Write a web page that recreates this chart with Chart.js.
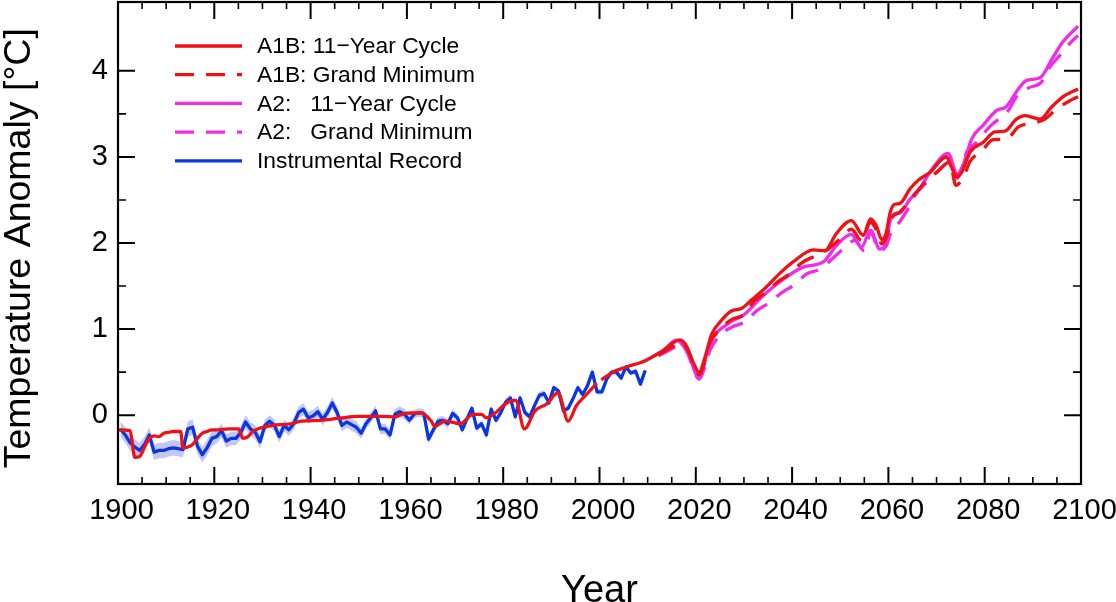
<!DOCTYPE html>
<html>
<head>
<meta charset="utf-8">
<style>
  html, body { margin: 0; padding: 0; background: #fff; }
  #wrap { position: relative; width: 1116px; height: 602px; }
</style>
<script src="https://cdn.jsdelivr.net/npm/chart.js@4"></script>
</head>
<body>
<div id="wrap"><canvas id="chart" width="1116" height="602"></canvas></div>
<script>
// Annual instrumental record, 1900-2009 (plotted at mid-year)
const instrumentalValues = [
  -0.16, -0.23, -0.32, -0.37, -0.41, -0.34, -0.23, -0.43, -0.41, -0.41,
  -0.39, -0.38, -0.39, -0.40, -0.16, -0.14, -0.36, -0.46, -0.38, -0.27,
  -0.25, -0.18, -0.30, -0.27, -0.27, -0.20, -0.08, -0.16, -0.20, -0.31,
  -0.12, -0.07, -0.12, -0.25, -0.12, -0.17, -0.10, 0.03, 0.07, -0.03,
  -0.01, 0.04, -0.05, 0.03, 0.14, 0.03, -0.12, -0.08, -0.11, -0.14,
  -0.21, -0.10, -0.03, 0.05, -0.16, -0.16, -0.23, 0.01, 0.04, 0.01,
  -0.06, 0.01, 0.03, 0.02, -0.28, -0.17, -0.07, -0.06, -0.10, 0.02,
  -0.03, -0.17, -0.04, 0.08, -0.15, -0.10, -0.23, 0.07, -0.06, 0.03,
  0.15, 0.20, -0.02, 0.20, 0.03, -0.02, 0.11, 0.23, 0.25, 0.14,
  0.32, 0.28, 0.05, 0.08, 0.19, 0.32, 0.24, 0.34, 0.50, 0.27,
  0.27, 0.42, 0.50, 0.50, 0.43, 0.56, 0.49, 0.51, 0.36, 0.52
];
// Half width of the shaded band, one value per decade from 1900
const instrumentalErrorByDecade = [0.09, 0.09, 0.08, 0.07, 0.07, 0.06, 0.05, 0.04, 0.04, 0.03, 0.03];

const a1bCycleYears = [
  1900, 1902.5, 1903.5, 1904.5, 1905.5, 1906.5, 1907.5, 1908.5, 1909.5, 1910.5, 1911.5, 1913,
  1913.5, 1914.5, 1915.5, 1916.5, 1917.5, 1918.5, 1919.5, 1920.5, 1923, 1925, 1926, 1927, 1928,
  1929.5, 1932, 1936, 1938, 1942, 1946, 1950, 1955, 1957.5, 1959.5, 1961, 1963, 1965, 1965.8,
  1967.9, 1969.3, 1971, 1973.8, 1975.5, 1976.5, 1982, 1982.6, 1984.4, 1986.6, 1989, 1991.4, 1993.5,
  1995.2, 1997.3, 1999.4, 2000, 2000.4, 2002.8, 2005.6, 2009.4, 2013.2, 2016.7, 2018, 2019.5, 2020.7,
  2021.9, 2023.3, 2025, 2027.4, 2029.5, 2031.6, 2034.3, 2037.5, 2040.2, 2044.4, 2046.8, 2049.2,
  2052.3, 2054.8, 2056.3, 2057.5, 2058.6, 2059.5, 2060.4, 2061.3, 2062.4, 2064.5, 2066.2, 2068.6,
  2072.1, 2073.1, 2074.3, 2075.2, 2077, 2079.7, 2082.1, 2084.2, 2086.6, 2088.4, 2091.5, 2093.9,
  2096.3, 2099.4
];
const a1bCycleValues = [
  -0.17, -0.18, -0.49, -0.48, -0.37, -0.27, -0.24, -0.25, -0.21, -0.20, -0.19, -0.19,
  -0.38, -0.37, -0.34, -0.27, -0.21, -0.19, -0.17, -0.17, -0.16, -0.16, -0.27, -0.25, -0.19,
  -0.15, -0.12, -0.10, -0.07, -0.06, -0.035, -0.015, -0.015, -0.02, 0.02, 0.025, 0.025, -0.065, -0.13,
  -0.07, -0.08, -0.10, 0.01, 0.01, -0.03, 0.17, 0.17, -0.16, 0.05, 0.13, 0.26, -0.07,
  0.11, 0.24, 0.37, null, 0.41, 0.50, 0.56, 0.63, 0.75, 0.875, 0.81, 0.61, 0.50,
  0.67, 0.94, 1.08, 1.21, 1.24, 1.34, 1.47, 1.65, 1.78, 1.92, 1.91, 2.11,
  2.26, 2.09, 2.28, 2.20, 2.04, 2.11, 2.36, 2.45, 2.46, 2.63, 2.73, 2.82,
  3.00, 2.88, 2.77, 2.82, 3.06, 3.17, 3.29, 3.30, 3.44, 3.48, 3.44, 3.58,
  3.70, 3.79
];

const a1bMinimumYears = [
  2012.2, 2015.3, 2017, 2018.3, 2020.7, 2023, 2025, 2027.4, 2030, 2032, 2034.7, 2037, 2039.5, 2042,
  2045, 2047.5, 2050, 2052.3, 2054.4, 2056.3, 2057.5, 2058.6, 2059.8, 2060.6, 2062.4, 2065.2, 2068,
  2070, 2072.8, 2074, 2075.6, 2077, 2079.4, 2081.8, 2084.6, 2087, 2090, 2092.5, 2095, 2097.6, 2099.4
];
const a1bMinimumValues = [
  0.70, 0.80, 0.85, 0.76, 0.47, 0.85, 1.00, 1.11, 1.17, 1.32, 1.43, 1.55, 1.64, 1.77,
  1.855, 1.93, 2.05, 2.16, 2.03, 2.24, 2.15, 1.99, 2.10, 2.28, 2.36, 2.55, 2.73,
  2.82, 2.94, 2.67, 2.77, 2.95, 3.07, 3.20, 3.21, 3.35, 3.39, 3.44, 3.56, 3.65, 3.70
];

const a2CycleYears = [
  2009.4, 2013.2, 2016, 2018.1, 2020.7, 2022.9, 2027.1, 2029.9, 2034, 2038.2, 2042.3, 2046.5, 2049.2,
  2052.3, 2054.4, 2056.3, 2058.2, 2059.3, 2060.4, 2061.3, 2062.4, 2064.5, 2066.5, 2068.6, 2072.4,
  2074.3, 2075.6, 2077.3, 2079.7, 2082.5, 2084.4, 2087, 2088.7, 2091.5, 2094.2, 2096.3, 2099.4
];
const a2CycleValues = [
  0.63, 0.75, 0.87, 0.75, 0.44, 0.83, 1.08, 1.16, 1.39, 1.58, 1.72, 1.78, 1.97,
  2.10, 1.95, 2.15, 1.93, 1.97, 2.26, 2.34, 2.35, 2.51, 2.63, 2.82, 3.04,
  2.80, 2.92, 3.21, 3.37, 3.54, 3.58, 3.79, 3.89, 3.92, 4.16, 4.34, 4.52
];

const a2MinimumYears = [
  2012.2, 2015.3, 2017, 2018.3, 2020.7, 2023, 2025, 2027.4, 2030.4, 2032.6, 2035.4, 2037.8, 2040.6,
  2043, 2046, 2048, 2050.6, 2053, 2055, 2056.3, 2058.2, 2059.6, 2060.4, 2062.4, 2064.1, 2065.5, 2068,
  2070, 2072.8, 2074.3, 2076.3, 2078.3, 2081, 2084.9, 2086.6, 2089, 2091.8, 2093.5, 2095.6, 2097.7, 2099.4
];
const a2MinimumValues = [
  0.69, 0.78, 0.84, 0.72, 0.42, 0.76, 0.93, 1.02, 1.09, 1.21, 1.31, 1.42, 1.52,
  1.64, 1.70, 1.80, 1.93, 2.03, 1.91, 2.12, 1.91, 1.97, 2.10, 2.25, 2.40, 2.55, 2.71,
  2.82, 2.94, 2.75, 3.06, 3.17, 3.35, 3.54, 3.70, 3.80, 3.87, 4.04, 4.18, 4.32, 4.41
];

const legendLabels = [
  'A1B: 11\u2212Year Cycle',
  'A1B: Grand Minimum',
  'A2:   11\u2212Year Cycle',
  'A2:   Grand Minimum',
  'Instrumental Record'
];

const RED = '#ee1115';
const MAGENTA = '#f02ce8';
const BLUE = '#0a36e2';
const BAND = '#c2c7f6';
const DASH = [19, 12];
const FONT = '"Liberation Sans", Arial, sans-serif';

function toPoints(years, values) {
  return years.map((x, i) => ({ x: x, y: values[i] }));
}

const instrumentalPoints = instrumentalValues.map((y, i) => ({ x: 1900.5 + i, y: y }));
const bandUpper = instrumentalPoints.map(p => ({ x: p.x, y: p.y + instrumentalErrorByDecade[Math.floor((p.x - 1900) / 10)] }));
const bandLower = instrumentalPoints.map(p => ({ x: p.x, y: p.y - instrumentalErrorByDecade[Math.floor((p.x - 1900) / 10)] }));

function lineDataset(label, data, color, dash, order, smooth) {
  return {
    label: label,
    data: data,
    borderColor: color,
    backgroundColor: color,
    borderWidth: 3.3,
    borderDash: dash,
    borderJoinStyle: 'round',
    cubicInterpolationMode: smooth ? 'monotone' : 'default',
    pointRadius: 0,
    tension: 0,
    fill: false,
    order: order
  };
}

// Inward ticks on all four sides plus the frame
const frameTicks = {
  id: 'frameTicks',
  afterDatasetsDraw(chart) {
    const { ctx, chartArea: a, scales } = chart;
    ctx.save();
    ctx.strokeStyle = '#000';
    scales.x.ticks.forEach(t => {
      const px = scales.x.getPixelForValue(t.value);
      const major = t.value % 20 === 0;
      const len = major ? 17 : 7;
      ctx.lineWidth = major ? 2 : 1.6;
      ctx.beginPath();
      ctx.moveTo(px, a.bottom); ctx.lineTo(px, a.bottom - len);
      ctx.moveTo(px, a.top); ctx.lineTo(px, a.top + len);
      ctx.stroke();
    });
    scales.y.ticks.forEach(t => {
      if (Math.abs(t.value * 2 - Math.round(t.value * 2)) > 1e-6) return;
      const py = scales.y.getPixelForValue(t.value);
      const major = Number.isInteger(t.value);
      const len = major ? 17 : 8;
      ctx.lineWidth = major ? 2 : 1.6;
      ctx.beginPath();
      ctx.moveTo(a.left, py); ctx.lineTo(a.left + len, py);
      ctx.moveTo(a.right, py); ctx.lineTo(a.right - len, py);
      ctx.stroke();
    });
    ctx.lineWidth = 2.2;
    ctx.strokeRect(a.left, a.top, a.right - a.left, a.bottom - a.top);
    ctx.restore();
  }
};

// Legend sits inside the plot, so it is drawn here rather than by the built-in box layout
const insideLegend = {
  id: 'insideLegend',
  afterDraw(chart) {
    const { ctx } = chart;
    const styles = [[RED, []], [RED, DASH], [MAGENTA, []], [MAGENTA, DASH], [BLUE, []]];
    ctx.save();
    ctx.font = '22.8px ' + FONT;
    ctx.textBaseline = 'middle';
    legendLabels.forEach((text, i) => {
      const y = 46 + i * 28.7;
      ctx.strokeStyle = styles[i][0];
      ctx.setLineDash(styles[i][1]);
      ctx.lineWidth = 3.3;
      ctx.beginPath();
      ctx.moveTo(175, y);
      ctx.lineTo(242, y);
      ctx.stroke();
      ctx.fillStyle = '#000';
      ctx.fillText(text, 257, y + 1);
    });
    ctx.restore();
  }
};

new Chart(document.getElementById('chart'), {
  type: 'line',
  data: {
    datasets: [
      lineDataset(legendLabels[0], toPoints(a1bCycleYears, a1bCycleValues), RED, [], 1, true),
      lineDataset(legendLabels[1], toPoints(a1bMinimumYears, a1bMinimumValues), RED, DASH, 2, true),
      lineDataset(legendLabels[2], toPoints(a2CycleYears, a2CycleValues), MAGENTA, [], 3, true),
      lineDataset(legendLabels[3], toPoints(a2MinimumYears, a2MinimumValues), MAGENTA, DASH, 4, true),
      lineDataset(legendLabels[4], instrumentalPoints, BLUE, [], 5, false),
      { label: 'upper', data: bandUpper, borderWidth: 0, pointRadius: 0, backgroundColor: BAND, fill: '+1', order: 6 },
      { label: 'lower', data: bandLower, borderWidth: 0, pointRadius: 0, fill: false, order: 7 }
    ]
  },
  options: {
    responsive: false,
    animation: false,
    spanGaps: false,
    layout: { padding: { top: 2, right: 35, bottom: 0, left: 0 } },
    plugins: { legend: { display: false }, tooltip: { enabled: false } },
    scales: {
      x: {
        type: 'linear',
        min: 1900,
        max: 2100,
        grid: { display: false },
        border: { display: false },
        afterFit(scale) {
          scale.height = 118;
          scale.paddingLeft = 0;
          scale.paddingRight = 0;
        },
        ticks: {
          stepSize: 5,
          autoSkip: false,
          maxRotation: 0,
          padding: 2,
          labelOffset: 3.5,
          color: '#000',
          font: { family: FONT, size: 29 },
          callback: v => (v % 20 === 0 ? String(v) : '')
        },
        title: {
          display: true,
          text: 'Year',
          color: '#000',
          font: { family: FONT, size: 38 },
          padding: { top: 0, bottom: -12 }
        }
      },
      y: {
        min: -0.8,
        max: 4.8,
        grid: { display: false },
        border: { display: false },
        afterFit(scale) {
          scale.width = 118;
          scale.paddingTop = 0;
          scale.paddingBottom = 0;
        },
        ticks: {
          stepSize: 0.5,
          autoSkip: false,
          padding: 2,
          color: '#000',
          font: { family: FONT, size: 29 },
          callback: v => (Number.isInteger(v) ? String(v) : '')
        },
        title: {
          display: true,
          // trailing space nudges the centred label down to where the reference has it
          text: 'Temperature Anomaly [\u00b0C] ',
          color: '#000',
          font: { family: FONT, size: 37.5 },
          padding: { top: -3, bottom: 0 }
        }
      }
    }
  },
  plugins: [frameTicks, insideLegend]
});
</script>
</body>
</html>
